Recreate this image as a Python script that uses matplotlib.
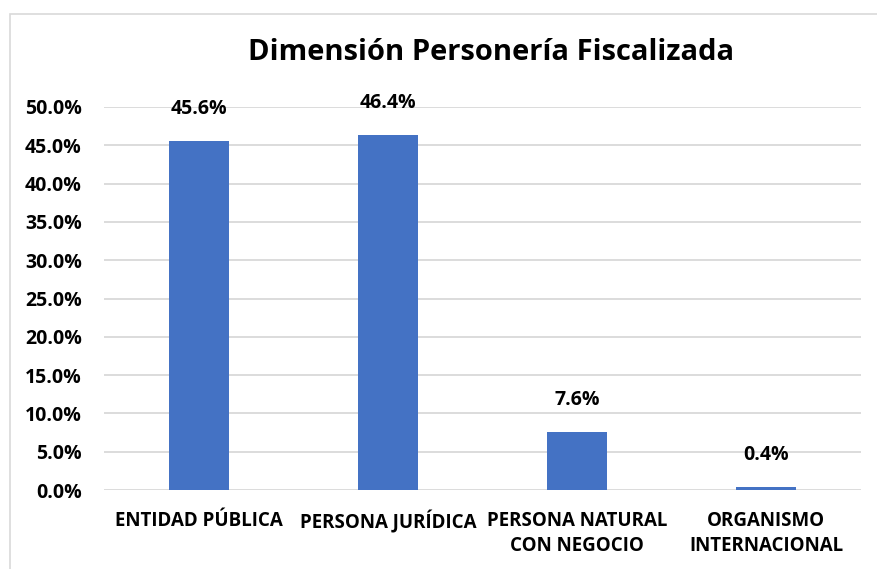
import matplotlib
matplotlib.use("Agg")
import matplotlib.pyplot as plt
from matplotlib.patches import Rectangle
from matplotlib.ticker import FuncFormatter

categorias = ["ENTIDAD PÚBLICA", "PERSONA JURÍDICA", "PERSONA NATURAL\nCON NEGOCIO", "ORGANISMO\nINTERNACIONAL"]
valores = [45.6, 46.4, 7.6, 0.4]
etiquetas = ["45.6%", "46.4%", "7.6%", "0.4%"]

plt.rcParams["font.family"] = ["Open Sans", "DejaVu Sans"]
plt.rcParams["font.weight"] = "bold"

W, H = 877, 569
fig = plt.figure(figsize=(W / 100, H / 100), dpi=100)
ax = fig.add_axes([104 / W, 1 - 490 / H, (861 - 104) / W, (490 - 107) / H])

x = range(len(categorias))
ax.bar(x, valores, width=0.317, color="#4472C4", zorder=3)
for i, v in enumerate(valores):
    ax.annotate(etiquetas[i], (i, v), xytext=(0, 32), textcoords="offset pixels",
                ha="center", va="center", fontsize=14, fontweight="bold")

ax.set_xlim(-0.5, 3.5)
ax.set_ylim(0, 50)
ax.set_yticks([i * 5 for i in range(11)])
ax.yaxis.set_major_formatter(FuncFormatter(lambda v, p: f"{v:.1f}%"))
ax.set_xticks(list(x))
ax.set_xticklabels(categorias, fontsize=13.5, fontweight="bold", linespacing=1.35)
ax.tick_params(axis="y", length=0, pad=16, labelsize=14)
ax.tick_params(axis="x", length=0, pad=15)
for s in ax.spines.values():
    s.set_visible(False)
ax.grid(axis="y", color="#D9D9D9", linewidth=1.3, zorder=0)
ax.set_axisbelow(True)

fig.text(491 / W, 1 - 53 / H, "Dimensión Personería Fiscalizada", ha="center", va="center",
         fontsize=21, fontweight="bold")

fig.add_artist(Rectangle((10 / W, -0.1), 1.1, 1 - 14 / H + 0.1, transform=fig.transFigure,
                         fill=False, edgecolor="#D9D9D9", linewidth=1.2))

fig.savefig("out.png", dpi=100)
